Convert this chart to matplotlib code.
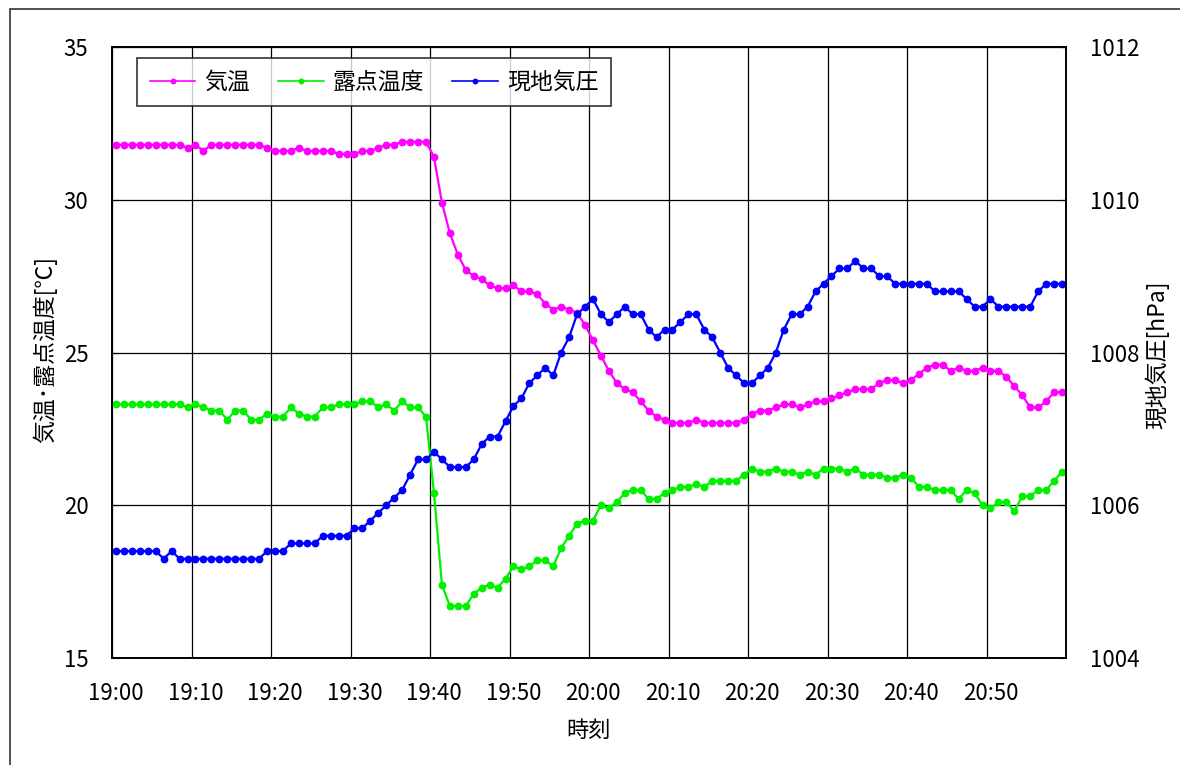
import matplotlib
matplotlib.use('Agg')
import matplotlib.pyplot as plt
from matplotlib.patches import Rectangle
import numpy as np

plt.rcParams['font.family'] = ['Noto Sans CJK JP', 'DejaVu Sans']

# ---- data (1-minute values, 19:00 - 20:59) ----
minutes = list(range(120))
tick_labels = ['19:00', '19:10', '19:20', '19:30', '19:40', '19:50',
               '20:00', '20:10', '20:20', '20:30', '20:40', '20:50']

temp = [31.8, 31.8, 31.8, 31.8, 31.8, 31.8, 31.8, 31.8, 31.8, 31.7,
        31.8, 31.6, 31.8, 31.8, 31.8, 31.8, 31.8, 31.8, 31.8, 31.7,
        31.6, 31.6, 31.6, 31.7, 31.6, 31.6, 31.6, 31.6, 31.5, 31.5,
        31.5, 31.6, 31.6, 31.7, 31.8, 31.8, 31.9, 31.9, 31.9, 31.9,
        31.4, 29.9, 28.9, 28.2, 27.7, 27.5, 27.4, 27.2, 27.1, 27.1,
        27.2, 27.0, 27.0, 26.9, 26.6, 26.4, 26.5, 26.4, 26.3, 25.9,
        25.4, 24.9, 24.4, 24.0, 23.8, 23.7, 23.4, 23.1, 22.9, 22.8,
        22.7, 22.7, 22.7, 22.8, 22.7, 22.7, 22.7, 22.7, 22.7, 22.8,
        23.0, 23.1, 23.1, 23.2, 23.3, 23.3, 23.2, 23.3, 23.4, 23.4,
        23.5, 23.6, 23.7, 23.8, 23.8, 23.8, 24.0, 24.1, 24.1, 24.0,
        24.1, 24.3, 24.5, 24.6, 24.6, 24.4, 24.5, 24.4, 24.4, 24.5,
        24.4, 24.4, 24.2, 23.9, 23.6, 23.2, 23.2, 23.4, 23.7, 23.7]

dew = [23.3, 23.3, 23.3, 23.3, 23.3, 23.3, 23.3, 23.3, 23.3, 23.2,
       23.3, 23.2, 23.1, 23.1, 22.8, 23.1, 23.1, 22.8, 22.8, 23.0,
       22.9, 22.9, 23.2, 23.0, 22.9, 22.9, 23.2, 23.2, 23.3, 23.3,
       23.3, 23.4, 23.4, 23.2, 23.3, 23.1, 23.4, 23.2, 23.2, 22.9,
       20.4, 17.4, 16.7, 16.7, 16.7, 17.1, 17.3, 17.4, 17.3, 17.6,
       18.0, 17.9, 18.0, 18.2, 18.2, 18.0, 18.6, 19.0, 19.4, 19.5,
       19.5, 20.0, 19.9, 20.1, 20.4, 20.5, 20.5, 20.2, 20.2, 20.4,
       20.5, 20.6, 20.6, 20.7, 20.6, 20.8, 20.8, 20.8, 20.8, 21.0,
       21.2, 21.1, 21.1, 21.2, 21.1, 21.1, 21.0, 21.1, 21.0, 21.2,
       21.2, 21.2, 21.1, 21.2, 21.0, 21.0, 21.0, 20.9, 20.9, 21.0,
       20.9, 20.6, 20.6, 20.5, 20.5, 20.5, 20.2, 20.5, 20.4, 20.0,
       19.9, 20.1, 20.1, 19.8, 20.3, 20.3, 20.5, 20.5, 20.8, 21.1]

pres = [1005.4, 1005.4, 1005.4, 1005.4, 1005.4, 1005.4, 1005.3, 1005.4, 1005.3, 1005.3,
        1005.3, 1005.3, 1005.3, 1005.3, 1005.3, 1005.3, 1005.3, 1005.3, 1005.3, 1005.4,
        1005.4, 1005.4, 1005.5, 1005.5, 1005.5, 1005.5, 1005.6, 1005.6, 1005.6, 1005.6,
        1005.7, 1005.7, 1005.8, 1005.9, 1006.0, 1006.1, 1006.2, 1006.4, 1006.6, 1006.6,
        1006.7, 1006.6, 1006.5, 1006.5, 1006.5, 1006.6, 1006.8, 1006.9, 1006.9, 1007.1,
        1007.3, 1007.4, 1007.6, 1007.7, 1007.8, 1007.7, 1008.0, 1008.2, 1008.5, 1008.6,
        1008.7, 1008.5, 1008.4, 1008.5, 1008.6, 1008.5, 1008.5, 1008.3, 1008.2, 1008.3,
        1008.3, 1008.4, 1008.5, 1008.5, 1008.3, 1008.2, 1008.0, 1007.8, 1007.7, 1007.6,
        1007.6, 1007.7, 1007.8, 1008.0, 1008.3, 1008.5, 1008.5, 1008.6, 1008.8, 1008.9,
        1009.0, 1009.1, 1009.1, 1009.2, 1009.1, 1009.1, 1009.0, 1009.0, 1008.9, 1008.9,
        1008.9, 1008.9, 1008.9, 1008.8, 1008.8, 1008.8, 1008.8, 1008.7, 1008.6, 1008.6,
        1008.7, 1008.6, 1008.6, 1008.6, 1008.6, 1008.6, 1008.8, 1008.9, 1008.9, 1008.9]

series_names = ['気温', '露点温度', '現地気圧']
colors = ['#FF00FF', '#00F000', '#0000FF']

W, H = 1180, 765
fig = plt.figure(figsize=(W / 100, H / 100), dpi=100)
fig.patch.set_facecolor('white')

# outer chart border (cropped Excel chart area)
fig.patches.append(Rectangle((10 / W, -0.05), 1.2, 1 - 9 / H + 0.05,
                             transform=fig.transFigure, fill=False,
                             edgecolor='#333333', linewidth=1.2))

L, R, T, B = 112, 1066, 47, 658
ax = fig.add_axes([L / W, 1 - B / H, (R - L) / W, (B - T) / H])
ax2 = ax.twinx()

x = np.array(minutes) + 0.5
lw, ms = 1.6, 4.6
h1, = ax.plot(x, temp, color=colors[0], lw=lw, marker='o', ms=ms, label=series_names[0])
h2, = ax.plot(x, dew, color=colors[1], lw=lw, marker='o', ms=ms, label=series_names[1])
h3, = ax2.plot(x, pres, color=colors[2], lw=lw, marker='o', ms=ms, label=series_names[2])

ax.set_xlim(0, 120)
ax.set_ylim(15, 35)
ax2.set_ylim(1004, 1012)

ax.set_xticks(range(0, 121, 10))
ax.set_xticklabels([])
ax.set_xticks(np.arange(0, 120, 10) + 0.5, minor=True)
ax.set_xticklabels(tick_labels, minor=True)
ax.tick_params(axis='x', which='both', length=0)
ax.tick_params(axis='x', which='minor', labelsize=16, pad=17)

ax.set_yticks([15, 20, 25, 30, 35])
ax2.set_yticks([1004, 1006, 1008, 1010, 1012])
ax.tick_params(axis='y', direction='in', length=5, labelsize=16, pad=17)
ax2.tick_params(axis='y', direction='in', length=5, labelsize=16, pad=17)

ax.grid(True, which='major', color='black', linewidth=0.9)
ax.set_axisbelow(True)
for a in (ax, ax2):
    for s in a.spines.values():
        s.set_color('black')
        s.set_linewidth(1.2)

fig.text(589 / W, 1 - 730 / H, '時刻', ha='center', va='center', fontsize=16)
fig.text(45 / W, 1 - 350 / H, '気温･露点温度[℃]', ha='center', va='center',
         rotation=90, fontsize=16.5)
fig.text(1157 / W, 1 - 355 / H, '現地気圧[hPa]', ha='center', va='center',
         rotation=90, fontsize=16.5)

leg = ax2.legend(handles=[h1, h2, h3], loc='upper left', ncol=3,
                 bbox_to_anchor=(137 / W, 1 - 58 / H), bbox_transform=fig.transFigure,
                 borderaxespad=0, fontsize=16.5, frameon=True, fancybox=False,
                 handlelength=2.0, handletextpad=0.4, columnspacing=1.2,
                 markerscale=0.7, borderpad=0.55)
leg.get_frame().set_edgecolor('black')
leg.get_frame().set_linewidth(1.2)
for lh in leg.get_lines():
    lh.set_linewidth(1.2)

fig.savefig('out.png', dpi=100)
